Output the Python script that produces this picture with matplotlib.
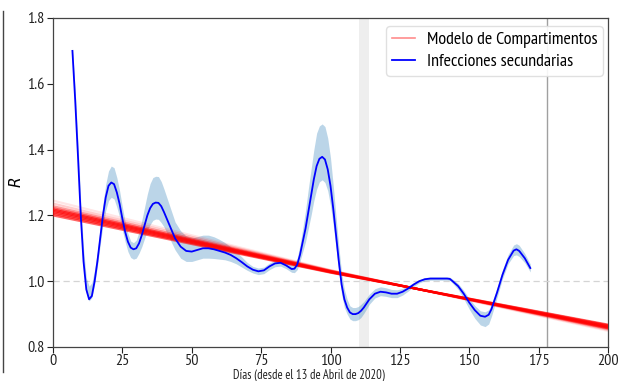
import matplotlib
matplotlib.use("Agg")
import matplotlib.pyplot as plt
from matplotlib.lines import Line2D
import numpy as np

plt.rcParams['font.family'] = ['PT Sans Narrow', 'DejaVu Sans']

# ---- data ----
days = [7, 8, 9, 10, 11, 12, 13, 14, 15, 16, 17, 18, 19, 20, 21, 22, 23, 24, 25, 26, 27, 28, 29, 30,
        31, 32, 33, 34, 35, 36, 37, 38, 39, 40, 42, 44, 46, 48, 50, 52, 54, 56, 58, 60, 62, 64, 66,
        68, 70, 72, 74, 76, 78, 80, 82, 84, 86, 87, 88, 89, 90, 91, 92, 93, 94, 95, 96, 97, 98, 99,
        100, 101, 102, 103, 104, 105, 106, 107, 108, 109, 110, 111, 112, 114, 116, 118, 120, 122,
        124, 126, 128, 130, 132, 134, 136, 138, 140, 142, 143, 144, 146, 148, 150, 152, 154, 155.7,
        157, 158, 160, 162, 164, 166, 167, 168, 170, 172]
r_secondary = [1.70, 1.55, 1.38, 1.20, 1.06, 0.975, 0.945, 0.955, 1.00, 1.06, 1.13, 1.20, 1.255,
               1.29, 1.30, 1.295, 1.27, 1.235, 1.19, 1.15, 1.12, 1.102, 1.097, 1.10, 1.115, 1.14,
               1.17, 1.20, 1.222, 1.235, 1.239, 1.238, 1.228, 1.21, 1.17, 1.13, 1.105, 1.092, 1.09,
               1.095, 1.10, 1.10, 1.097, 1.092, 1.087, 1.08, 1.07, 1.058, 1.045, 1.035, 1.03, 1.033,
               1.045, 1.054, 1.056, 1.048, 1.037, 1.038, 1.05, 1.08, 1.12, 1.16, 1.21, 1.26, 1.31,
               1.35, 1.372, 1.378, 1.37, 1.34, 1.29, 1.22, 1.14, 1.06, 0.99, 0.945, 0.92, 0.905,
               0.90, 0.90, 0.903, 0.91, 0.92, 0.945, 0.962, 0.968, 0.966, 0.962, 0.962, 0.968, 0.978,
               0.99, 1.0, 1.006, 1.008, 1.008, 1.008, 1.008, 1.007, 1.0, 0.985, 0.962, 0.935, 0.912,
               0.895, 0.892, 0.898, 0.915, 0.965, 1.02, 1.065, 1.093, 1.097, 1.092, 1.07, 1.04]
band_up = [0.01, 0.03, 0.04, 0.04, 0.04, 0.035, 0.04, 0.04, 0.035, 0.03, 0.03, 0.035, 0.04,
           0.045, 0.05, 0.05, 0.045, 0.04, 0.035, 0.03, 0.025, 0.02, 0.02, 0.025, 0.035, 0.045,
           0.055, 0.065, 0.075, 0.08, 0.08, 0.08, 0.075, 0.07, 0.06, 0.05, 0.048, 0.045, 0.042,
           0.04, 0.04, 0.04, 0.038, 0.035, 0.03, 0.025, 0.02, 0.016, 0.012, 0.01, 0.01, 0.01,
           0.01, 0.01, 0.01, 0.01, 0.012, 0.015, 0.02, 0.03, 0.04, 0.055, 0.07, 0.08, 0.09, 0.1,
           0.1, 0.1, 0.1, 0.095, 0.085, 0.07, 0.055, 0.045, 0.035, 0.03, 0.025, 0.02, 0.02, 0.02,
           0.02, 0.02, 0.018, 0.016, 0.015, 0.015, 0.014, 0.013, 0.012, 0.01, 0.008, 0.006,
           0.005, 0.005, 0.005, 0.005, 0.005, 0.005, 0.005, 0.006, 0.008, 0.01, 0.012, 0.014,
           0.015, 0.015, 0.015, 0.015, 0.015, 0.015, 0.016, 0.017, 0.017, 0.017, 0.014, 0.012]
band_down = [0.01, 0.02, 0.02, 0.02, 0.015, 0.01, 0.005, 0.005, 0.01, 0.015, 0.02, 0.03, 0.04,
             0.045, 0.045, 0.045, 0.045, 0.04, 0.035, 0.03, 0.03, 0.03, 0.03, 0.03, 0.03, 0.035,
             0.04, 0.045, 0.05, 0.05, 0.05, 0.05, 0.05, 0.045, 0.04, 0.035, 0.035, 0.032, 0.03,
             0.03, 0.03, 0.03, 0.028, 0.025, 0.022, 0.02, 0.017, 0.015, 0.012, 0.01, 0.01, 0.01,
             0.01, 0.01, 0.01, 0.01, 0.01, 0.012, 0.015, 0.02, 0.03, 0.04, 0.05, 0.06, 0.065,
             0.07, 0.07, 0.07, 0.07, 0.065, 0.06, 0.05, 0.04, 0.035, 0.03, 0.025, 0.02, 0.02,
             0.02, 0.02, 0.02, 0.02, 0.018, 0.015, 0.013, 0.012, 0.012, 0.012, 0.012, 0.01, 0.008,
             0.006, 0.005, 0.005, 0.005, 0.005, 0.005, 0.005, 0.005, 0.006, 0.01, 0.015, 0.02,
             0.025, 0.028, 0.03, 0.028, 0.022, 0.015, 0.012, 0.012, 0.015, 0.017, 0.017, 0.014,
             0.012]

# compartment-model ensemble: R at day 0, 100 and 200 for each sampled trajectory
model_days = [0, 100, 200]
model_r0 = [1.200, 1.205, 1.210, 1.214, 1.218, 1.222, 1.228, 1.236, 1.245]
model_r100 = [1.026, 1.027, 1.028, 1.029, 1.030, 1.031, 1.032, 1.033, 1.034]
model_r200 = [0.868, 0.866, 0.863, 0.861, 0.859, 0.857, 0.855, 0.852, 0.849]
model_alpha = [0.6, 0.7, 0.7, 0.7, 0.7, 0.6, 0.4, 0.2, 0.1]

shade_start, shade_end = 110.3, 114.0
vline_day = 178

xticks = [0, 25, 50, 75, 100, 125, 150, 175, 200]
yticks = [0.8, 1.0, 1.2, 1.4, 1.6, 1.8]

# ---- figure ----
fig = plt.figure(figsize=(6.18, 3.81), dpi=100)
ax = fig.add_axes([53 / 618, 34 / 381, 555 / 618, 329 / 381])

ax.axvspan(shade_start, shade_end, color='#eeeeee', lw=0, zorder=0)
ax.axvline(vline_day, color='#a0a0a0', lw=1.0, zorder=1)
ax.axhline(1.0, color='#d4d4d4', lw=0.9, ls=(0, (5, 3)), zorder=1)

for r0, r1, r2, a in zip(model_r0, model_r100, model_r200, model_alpha):
    ax.plot(model_days, [r0, r1, r2], color='red', lw=1.6, alpha=a, zorder=3,
            solid_capstyle='butt')

lo = np.array(r_secondary) - np.array(band_down)
hi = np.array(r_secondary) + np.array(band_up)
ax.fill_between(days, lo, hi, color='#1f77b4', alpha=0.3, lw=0, zorder=2)
ax.plot(days, r_secondary, color='blue', lw=1.3, zorder=4)

ax.set_xlim(0, 200)
ax.set_ylim(0.8, 1.8)
ax.set_xticks(xticks)
ax.set_yticks(yticks)
ax.set_xticklabels([str(v) for v in xticks])
ax.set_yticklabels([f"{v:.1f}" for v in yticks])
ax.tick_params(labelsize=11.5, length=4, width=0.8, colors='#222222', pad=2)
ax.tick_params(axis='x', pad=1)
for s in ax.spines.values():
    s.set_color('#444444')
    s.set_linewidth(0.9)

ax.set_xlabel("Días (desde el 13 de Abril de 2020)", fontsize=9, color='#222222')
ax.xaxis.set_label_coords((308.5 - 53) / 555, -(369 - 347) / 329)
ax.set_ylabel("$R$", fontsize=11)
ax.yaxis.set_label_coords(-(53 - 24) / 555, 0.5)

handles = [Line2D([], [], color='red', alpha=0.45, lw=1.2),
           Line2D([], [], color='blue', lw=1.3)]
leg = ax.legend(handles, ["Modelo de Compartimentos", "Infecciones secundarias"],
                loc='upper right', fontsize=13, frameon=True, framealpha=0.9,
                borderpad=0.3, handlelength=1.3, handletextpad=0.65, labelspacing=0.3,
                fancybox=True, borderaxespad=0,
                bbox_to_anchor=(1 - 5 / 555, 1 - 8 / 329))
leg.get_frame().set_edgecolor('#dddddd')

fig.add_artist(Line2D([2.5 / 618, 2.5 / 618], [1 - 11 / 381, 1 - 372 / 381],
                      transform=fig.transFigure, color='#444444', lw=1.0))

fig.savefig("out.png", dpi=100)
